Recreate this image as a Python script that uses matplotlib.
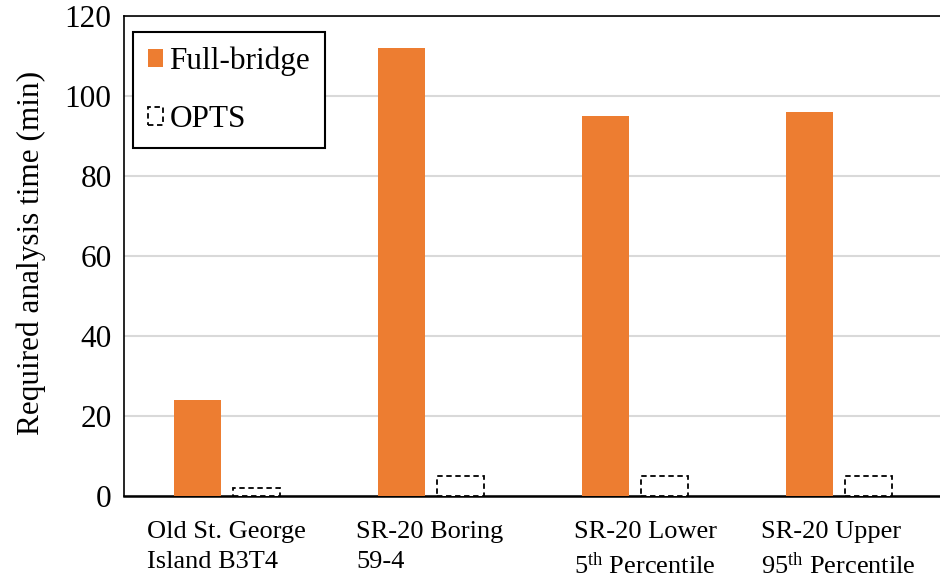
import numpy as np
import matplotlib.pyplot as plt
import matplotlib.transforms as mtransforms
from matplotlib import rc

rc('font', family='Liberation Serif')
rc('mathtext', fontset='custom', rm='Liberation Serif', it='Liberation Serif:italic')

# analysis times (min)
cases = ["Old St. George\nIsland B3T4",
         "SR-20 Boring\n59-4",
         "SR-20 Lower\n5$^{\\mathrm{th}}$ Percentile",
         "SR-20 Upper\n95$^{\\mathrm{th}}$ Percentile"]
full_bridge = [24, 112, 95, 96]
opts = [2, 5, 5, 5]

orange = '#ED7D31'

fig = plt.figure(figsize=(9.4, 5.79), dpi=100)
ax = fig.add_axes([124/940, 83/579, 816/940, 480/579])

x = np.arange(len(cases))
w = 0.23
ax.bar(x - 0.14, full_bridge, w, color=orange, label='Full-bridge', zorder=3)
ax.bar(x + 0.15, opts, w, facecolor='white', edgecolor='black', linestyle=(0, (3, 2)),
       linewidth=1.3, label='OPTS', zorder=3)

ax.set_xlim(-0.5, len(cases) - 0.5)
ax.set_ylim(0, 120)
ax.set_yticks(np.arange(0, 121, 20))
ax.yaxis.grid(True, color='#D9D9D9', linewidth=1.5, zorder=0)
ax.tick_params(axis='y', length=0, labelsize=22.5, pad=9)
ax.tick_params(axis='x', length=0, labelsize=19, pad=18)
ax.set_xticks(x)
ax.set_xticklabels(cases, multialignment='left', linespacing=1.45)

# nudge the "Lower" label a little to the right
lab = ax.get_xticklabels()[2]
lab.set_transform(lab.get_transform() +
                  mtransforms.ScaledTranslation(12/100, 0, fig.dpi_scale_trans))

ax.set_ylabel('Required analysis time (min)', fontsize=22.5)
ax.yaxis.set_label_coords(-0.096, 0.507)

for s in ['left', 'top']:
    ax.spines[s].set_linewidth(1.2)
ax.spines['right'].set_visible(False)
ax.spines['bottom'].set_linewidth(1.8)

leg = ax.legend(loc='upper left', bbox_to_anchor=(0.011, 0.967), fontsize=22.5,
                frameon=True, fancybox=False, edgecolor='black', framealpha=1,
                handlelength=0.5, handleheight=0.5, handletextpad=0.2,
                labelspacing=0.92, borderpad=0.47, borderaxespad=0)
leg.get_frame().set_linewidth(1.5)

fig.savefig('out.png', dpi=100)
